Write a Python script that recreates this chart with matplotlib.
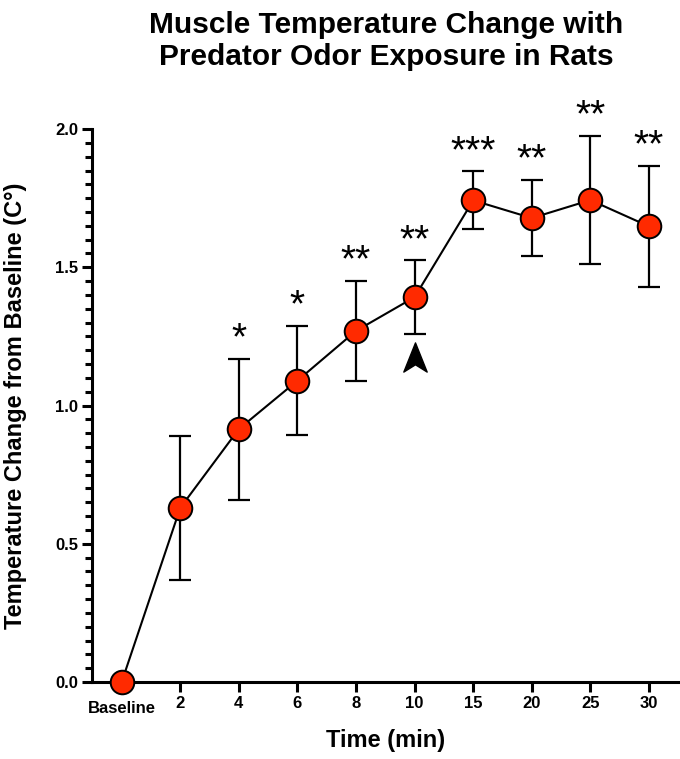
import numpy as np
import matplotlib
matplotlib.use('Agg')
import matplotlib.pyplot as plt
from matplotlib.path import Path
from matplotlib.ticker import MultipleLocator

plt.rcParams['font.family'] = ['Liberation Sans', 'DejaVu Sans']
plt.rcParams['font.weight'] = 'bold'

# data
time_labels = ['Baseline', '2', '4', '6', '8', '10', '15', '20', '25', '30']
temp_change = [0.0, 0.63, 0.915, 1.09, 1.27, 1.392, 1.742, 1.678, 1.743, 1.648]
sem = [0.0, 0.26, 0.255, 0.197, 0.18, 0.133, 0.105, 0.138, 0.232, 0.219]
stars = ['', '', '*', '*', '**', '**', '***', '**', '**', '**']
arrow_idx = 5

x = np.arange(len(time_labels))

fig = plt.figure(figsize=(6.8, 7.59), dpi=100)
ax = fig.add_axes([0.135, 0.1014, 0.865, 0.7286])

# error bars (skip baseline, which has none)
ax.errorbar(x[1:], temp_change[1:], yerr=sem[1:], fmt='none', ecolor='black',
            elinewidth=1.6, capsize=8, capthick=1.6, zorder=2)
ax.plot(x, temp_change, color='black', lw=1.5, marker='o', markersize=17,
        markerfacecolor='#ff2a00', markeredgecolor='black', markeredgewidth=1.4,
        clip_on=False, zorder=3)

# significance stars above the error bars
for xi, yi, ei, s in zip(x, temp_change, sem, stars):
    if s:
        ax.annotate(s, (xi, yi + ei), xytext=(0, 1), textcoords='offset points',
                    ha='center', va='bottom', fontsize=28, fontweight='normal')

# arrowhead marker under the 10 min point
arrow = Path([(0, 1), (0.8, -1), (0, -0.5), (-0.8, -1), (0, 1)],
             [Path.MOVETO, Path.LINETO, Path.LINETO, Path.LINETO, Path.CLOSEPOLY])
ax.plot(x[arrow_idx], temp_change[arrow_idx] - sem[arrow_idx] - 0.085, marker=arrow,
        markersize=21, color='black', linestyle='none')

ax.set_xlim(-0.51, 9.53)
ax.set_ylim(0, 2.0)
ax.set_xticks(x[1:])
ax.set_xticklabels(time_labels[1:], fontsize=12, fontweight='bold')
ax.text(0, -0.035, 'Baseline', transform=ax.get_xaxis_transform(), ha='center',
        va='top', fontsize=12, fontweight='bold')
ax.set_yticks([0, 0.5, 1.0, 1.5, 2.0])
ax.set_yticklabels(['0.0', '0.5', '1.0', '1.5', '2.0'], fontsize=12, fontweight='bold')
ax.yaxis.set_minor_locator(MultipleLocator(0.05))

for side in ['top', 'right']:
    ax.spines[side].set_visible(False)
for side in ['left', 'bottom']:
    ax.spines[side].set_linewidth(2.2)
ax.tick_params(axis='both', which='major', direction='out', length=7, width=2.2, pad=3)
ax.tick_params(axis='y', which='minor', direction='out', length=5, width=2.2)

ax.set_xlabel('Time (min)', fontsize=17, fontweight='bold', labelpad=13)
ax.set_ylabel('Temperature Change from Baseline (C°)', fontsize=17,
              fontweight='bold', labelpad=20)
ax.set_title('Muscle Temperature Change with\nPredator Odor Exposure in Rats',
             fontsize=21.5, fontweight='bold', pad=46)

plt.savefig('out.png', dpi=100)
